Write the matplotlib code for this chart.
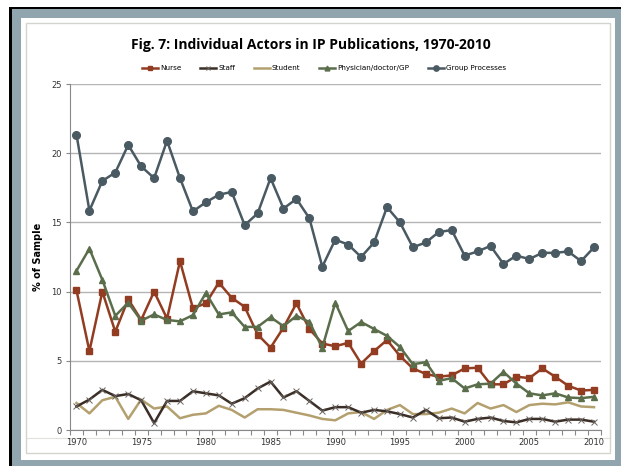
import matplotlib
matplotlib.use("Agg")
from matplotlib import pyplot as plt
import matplotlib.patches as patches

years = list(range(1970, 2011))

nurse = [10.1, 5.7, 10.0, 7.1, 9.45, 7.95, 10.0, 8.05, 12.2, 8.8,
         9.15, 10.65, 9.55, 8.9, 6.9, 5.95, 7.4, 9.15, 7.3, 6.25,
         6.05, 6.3, 4.8, 5.7, 6.5, 5.35, 4.45, 4.05, 3.85, 3.95,
         4.45, 4.5, 3.3, 3.3, 3.85, 3.75, 4.45, 3.85, 3.2, 2.85, 2.9]
staff = [1.7, 2.2, 2.9, 2.45, 2.6, 2.15, 0.5, 2.1, 2.1, 2.8,
         2.65, 2.5, 1.9, 2.3, 3.0, 3.5, 2.35, 2.8, 2.1, 1.4,
         1.65, 1.65, 1.25, 1.45, 1.35, 1.15, 0.9, 1.45, 0.85, 0.9,
         0.6, 0.8, 0.9, 0.65, 0.55, 0.8, 0.8, 0.6, 0.75, 0.75, 0.6]
student = [1.95, 1.2, 2.15, 2.4, 0.8, 2.2, 1.55, 1.7, 0.85, 1.1,
           1.2, 1.75, 1.45, 0.9, 1.5, 1.5, 1.45, 1.25, 1.05, 0.8,
           0.7, 1.2, 1.3, 0.8, 1.45, 1.8, 1.15, 1.15, 1.25, 1.55,
           1.2, 1.95, 1.55, 1.8, 1.3, 1.8, 1.9, 1.85, 2.0, 1.7, 1.65]
physician = [11.5, 13.1, 10.85, 8.25, 9.2, 7.9, 8.35, 7.95, 7.85, 8.3,
             9.9, 8.35, 8.5, 7.45, 7.45, 8.15, 7.5, 8.25, 7.8, 5.95,
             9.2, 7.15, 7.8, 7.3, 6.8, 6.0, 4.75, 4.9, 3.55, 3.75,
             3.0, 3.3, 3.35, 4.2, 3.35, 2.65, 2.5, 2.65, 2.35, 2.3, 2.4]
group = [21.35, 15.85, 18.0, 18.6, 20.6, 19.05, 18.2, 20.9, 18.2, 15.8,
         16.45, 17.0, 17.2, 14.8, 15.65, 18.2, 16.0, 16.7, 15.3, 11.8,
         13.75, 13.4, 12.5, 13.55, 16.1, 15.0, 13.2, 13.55, 14.3, 14.45,
         12.6, 12.9, 13.3, 12.0, 12.6, 12.35, 12.8, 12.8, 12.9, 12.2, 13.2]

W, H = 621, 466
fig = plt.figure(figsize=(W / 100, H / 100), dpi=100)
fig.patch.set_facecolor("white")

def box(x0, y0, x1, y1, **kw):
    # pixel box, top-left origin
    r = patches.Rectangle((x0 / W, 1 - y1 / H), (x1 - x0) / W, (y1 - y0) / H,
                          transform=fig.transFigure, **kw)
    fig.add_artist(r)

box(9, 7, W + 2, H + 2, facecolor="black", edgecolor="none", zorder=-10)
box(12, 9, W + 2, H + 2, facecolor="#91a5af", edgecolor="none", zorder=-9)
box(21, 18, 615, 460, facecolor="white", edgecolor="none", zorder=-8)
box(26, 23, 610, 453, facecolor="none", edgecolor="#d4d4ce", linewidth=1.0, zorder=-7)
fig.add_artist(plt.Line2D([27 / W, 609 / W], [1 - 438 / H, 1 - 438 / H],
                          transform=fig.transFigure, color="#e2e2dc", linewidth=0.8, zorder=-6))

ax = fig.add_axes([70 / W, 1 - 430 / H, (600.5 - 70) / W, (430 - 84) / H])
ax.set_facecolor("none")

ax.plot(years, nurse, color="#923c22", linewidth=1.8, marker="s", markersize=4.5, label="Nurse", zorder=4)
ax.plot(years, staff, color="#3a2e27", linewidth=1.8, marker="x", markersize=4, markeredgewidth=0.7,
        markeredgecolor="#6a6460", label="Staff", zorder=3)
ax.plot(years, student, color="#b3a06e", linewidth=1.8, label="Student", zorder=2)
ax.plot(years, physician, color="#5b6e4c", linewidth=1.8, marker="^", markersize=5, label="Physician/doctor/GP", zorder=5)
ax.plot(years, group, color="#4a5a63", linewidth=1.8, marker="o", markersize=5.5, label="Group Processes", zorder=6)

ax.set_xlim(1969.5, 2010.5)
ax.set_ylim(0, 25)
ax.set_yticks([0, 5, 10, 15, 20, 25])
ax.set_xticks(list(range(1970, 2011, 5)))
ax.set_xticks([y + 0.5 for y in range(1969, 2011)], minor=True)
ax.tick_params(axis="x", which="major", length=0, labelsize=6, colors="#333333", pad=6)
ax.tick_params(axis="x", which="minor", length=3.5, color="#888888", width=0.8)
ax.tick_params(axis="y", length=3, color="#888888", labelsize=6, labelcolor="#333333", pad=3)
ax.grid(axis="y", color="#b4b4b4", linewidth=1.0)
ax.set_axisbelow(True)
for s in ["top", "right"]:
    ax.spines[s].set_visible(False)
ax.spines["left"].set_color("#888888")
ax.spines["bottom"].set_color("#888888")
ax.set_ylabel("% of Sample", fontsize=7, fontweight="bold", labelpad=6)

fig.text(311 / W, 1 - 45 / H, "Fig. 7: Individual Actors in IP Publications, 1970-2010",
         ha="center", va="center", fontsize=10, fontweight="bold", family="Open Sans")
ax.legend(loc="center", bbox_to_anchor=(324 / W, 1 - 68 / H), bbox_transform=fig.transFigure,
          ncol=5, fontsize=5.2, frameon=False, handlelength=2.2, handletextpad=0.3,
          columnspacing=2.6, markerscale=0.7)

fig.savefig("out.png", dpi=100)
